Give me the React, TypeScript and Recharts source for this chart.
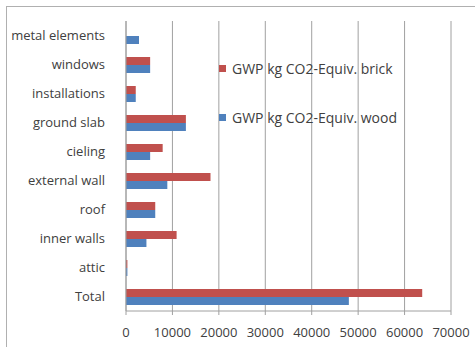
import { BarChart, Bar, XAxis, YAxis, CartesianGrid } from "recharts";

const categories = [
  "metal elements",
  "windows",
  "installations",
  "ground slab",
  "cieling",
  "external wall",
  "roof",
  "inner walls",
  "attic",
  "Total",
];
const brick = [0, 5200, 2100, 12900, 7900, 18200, 6300, 10900, 300, 63800];
const wood = [2800, 5200, 2100, 12900, 5200, 8900, 6300, 4400, 300, 48000];
const xTicks = [0, 10000, 20000, 30000, 40000, 50000, 60000, 70000];

const seriesNames = ["GWP kg CO2-Equiv. brick", "GWP kg CO2-Equiv. wood"];
const colors = ["#C0504D", "#4F81BD"];

const data = categories.map((name, i) => ({
  name,
  brick: brick[i],
  wood: wood[i],
}));

const font = "'Open Sans', sans-serif";

function LegendBox() {
  return (
    <div
      style={{
        position: "absolute",
        left: 219,
        top: 59,
        fontFamily: font,
        fontSize: 14,
        color: "#404040",
      }}
    >
      {seriesNames.map((s, i) => (
        <div
          key={s}
          style={{ display: "flex", alignItems: "center", height: 18, marginBottom: i === 0 ? 31 : 0 }}
        >
          <span
            style={{ width: 7, height: 7, background: colors[i], marginRight: 6, display: "inline-block" }}
          />
          <span>{s}</span>
        </div>
      ))}
    </div>
  );
}

export default function App() {
  return (
    <div style={{ position: "absolute", left: 0, top: 0, width: 475, height: 347, background: "#fff" }}>
      <div
        style={{
          position: "absolute",
          left: 6,
          top: 6,
          width: 480,
          height: 360,
          border: "1px solid #b0b0b0",
        }}
      />
      <div style={{ position: "absolute", left: 0, top: 0 }}>
        <BarChart
          width={475}
          height={347}
          data={data}
          layout="vertical"
          margin={{ top: 21, right: 24, bottom: 6, left: 0 }}
          barGap={0}
          barSize={8}
        >
          <CartesianGrid horizontal={false} stroke="#a0a0a0" />
          <XAxis
            type="number"
            domain={[0, 70000]}
            ticks={xTicks}
            interval={0}
            height={30}
            tick={{ fontSize: 13, fill: "#404040", fontFamily: font }}
            stroke="#a0a0a0"
            tickSize={4}
            tickMargin={13}
          />
          <YAxis
            type="category"
            dataKey="name"
            width={126}
            tick={{ fontSize: 13, fill: "#404040", fontFamily: font }}
            stroke="#a0a0a0"
            tickLine={false}
            tickMargin={15}
            interval={0}
          />
          <Bar dataKey="brick" name={seriesNames[0]} fill={colors[0]} isAnimationActive={false} />
          <Bar dataKey="wood" name={seriesNames[1]} fill={colors[1]} isAnimationActive={false} />
        </BarChart>
      </div>
      <LegendBox />
    </div>
  );
}
